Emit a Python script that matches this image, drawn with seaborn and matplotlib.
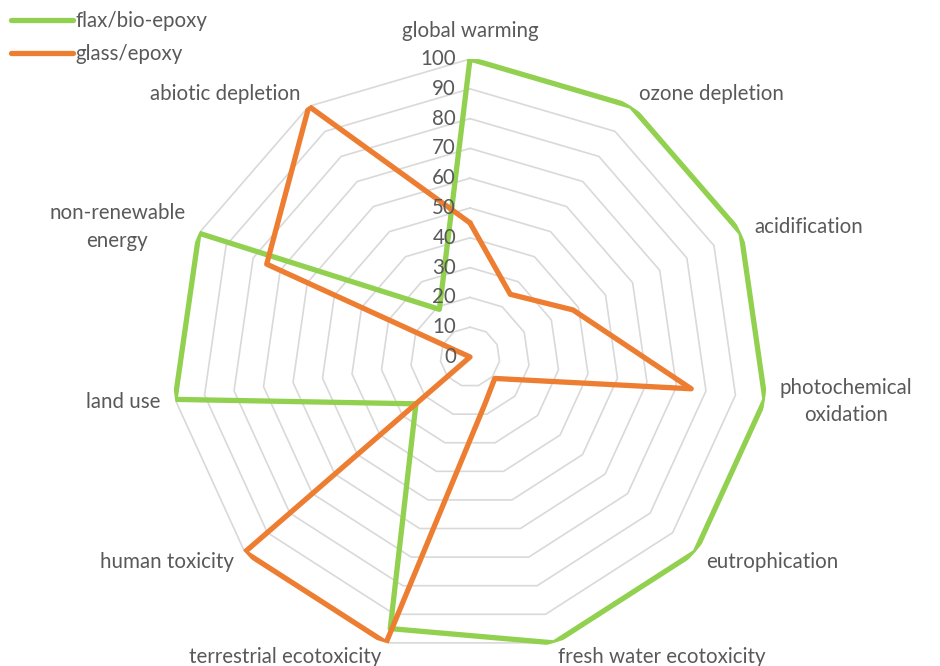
import numpy as np
import pandas as pd
import matplotlib
matplotlib.use('Agg')
import matplotlib.pyplot as plt
import seaborn as sns

# categorias (sentido horário a partir do topo)
categorias = ['global warming', 'ozone depletion', 'acidification',
              'photochemical\noxidation', 'eutrophication',
              'fresh water ecotoxicity', 'terrestrial ecotoxicity',
              'human toxicity', 'land use', 'non-renewable\nenergy',
              'abiotic depletion']
flax = [100, 100, 100, 100, 100, 100, 95, 24, 100, 100, 19]
glass = [45, 25, 38, 75, 11, 17, 100, 100, 0, 75, 100]
niveis = [0, 10, 20, 30, 40, 50, 60, 70, 80, 90, 100]

sns.set_style('white')
plt.rcParams['font.family'] = ['Lato', 'DejaVu Sans']
cor_texto = '#595959'
verde = '#92D050'
laranja = '#ED7D31'
fs = 14.8

n = len(categorias)
angulos = np.arange(n) * 2 * np.pi / n
ang_fechado = np.append(angulos, angulos[0] + 2 * np.pi)

# montando o dataframe long-form
df = pd.concat([
    pd.DataFrame({'theta': ang_fechado, 'valor': flax + flax[:1], 'serie': 'flax/bio-epoxy'}),
    pd.DataFrame({'theta': ang_fechado, 'valor': glass + glass[:1], 'serie': 'glass/epoxy'}),
])

fig = plt.figure(figsize=(9.4, 6.66), dpi=100)
ax = fig.add_axes([0.183, 0.0165, 0.634, 0.895], projection='polar')
ax.set_theta_zero_location('N')
ax.set_theta_direction(-1)
ax.set_ylim(0, 100)
ax.grid(False)
ax.spines['polar'].set_visible(False)
ax.set_xticks([])
ax.set_yticks([])

# grade poligonal (sem raios)
for nv in niveis[1:]:
    ax.plot(ang_fechado, [nv] * (n + 1), color='#D9D9D9', lw=1.2, zorder=1)

sns.lineplot(data=df, x='theta', y='valor', hue='serie', sort=False,
             estimator=None, palette=[verde, laranja], lw=3.8, ax=ax,
             legend=False, zorder=3)
ax.set_xlabel('')
ax.set_ylabel('')

# rótulos do eixo radial
for nv in niveis:
    ax.annotate(str(nv), xy=(0, nv), xytext=(-10, 0), textcoords='offset points',
                ha='right', va='center', fontsize=fs, color=cor_texto)

# rótulos das categorias
for a, cat in zip(angulos, categorias):
    s = np.sin(a)
    if abs(s) < 0.01:
        ax.text(a, 106, cat, ha='center', va='bottom', fontsize=fs, color=cor_texto)
    else:
        ax.text(a, 105, cat, ha='left' if s > 0 else 'right', va='center',
                fontsize=fs, color=cor_texto, multialignment='center',
                linespacing=1.45)

handles = [plt.Line2D([], [], color=verde, lw=3.8, solid_capstyle='round'),
           plt.Line2D([], [], color=laranja, lw=3.8, solid_capstyle='round')]
leg = fig.legend(handles, ['flax/bio-epoxy', 'glass/epoxy'], loc='upper left',
                 bbox_to_anchor=(0.0, 1.0), frameon=False, fontsize=fs,
                 handlelength=3.0, handletextpad=0.1, labelspacing=0.62,
                 borderaxespad=0.15)
for t in leg.get_texts():
    t.set_color(cor_texto)

fig.savefig('out.png', dpi=100)
